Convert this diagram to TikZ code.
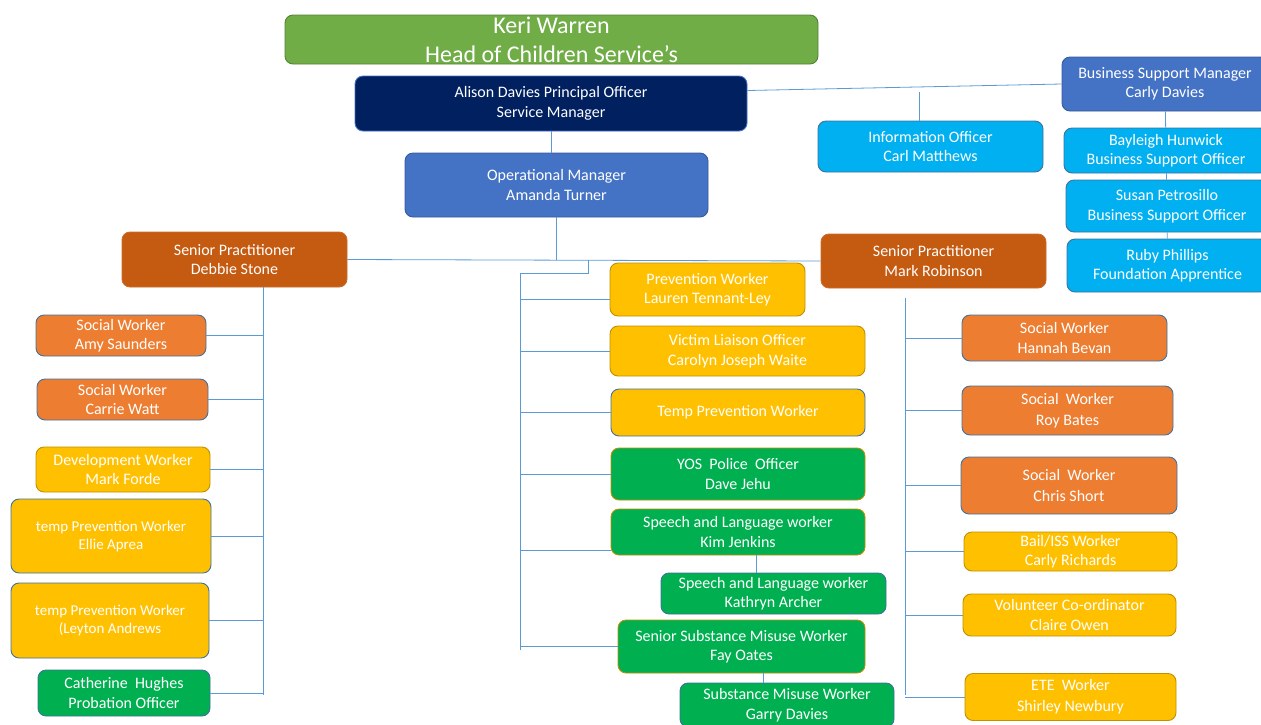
\documentclass[tikz,border=0pt]{standalone}
\usepackage{fontspec}
\setmainfont{Carlito}
\usepackage{tikz}
\usetikzlibrary{positioning, calc}
\definecolor{headgreen}{HTML}{70AD47}
\definecolor{navy}{HTML}{002060}
\definecolor{midblue}{HTML}{4472C4}
\definecolor{skyblue}{HTML}{00B0F0}
\definecolor{rust}{HTML}{C55A11}
\definecolor{swOrange}{HTML}{ED7D31}
\definecolor{amber}{HTML}{FFC000}
\definecolor{teamgreen}{HTML}{00B050}
\definecolor{edgeblue}{HTML}{41719C}
\definecolor{edgegold}{HTML}{BF9000}
\definecolor{linkblue}{HTML}{5B9BD5}

\begin{document}
\begin{tikzpicture}[x=1pt, y=-1pt,
			post/.style={draw=edgeblue, rounded corners=8pt, text=white, align=center, font=\fontsize{16}{19.5}\selectfont, inner sep=1pt, line width=0.9pt},
			sw/.style={post, fill=swOrange},
			yw/.style={post, fill=amber, draw=edgegold},
			gw/.style={post, fill=teamgreen},
			link/.style={linkblue, line width=0.8pt}]
			\useasboundingbox (0,0) rectangle (1261,724);
			\clip (0,0) rectangle (1261,724);
			\node[post, fill=headgreen, draw=headgreen!75!black, font=\fontsize{24}{29}\selectfont, minimum width=533, minimum height=49] (keri) at (551.5,39.5) {Keri Warren\\Head of Children Service’s};
			\node[post, fill=navy, draw=midblue, minimum width=392, minimum height=55] (alison) at (551,103.5) {Alison Davies Principal Officer\\Service Manager};
			\node[post, fill=midblue, draw=midblue!80!black, minimum width=303, minimum height=64] (ops) at (556.5,185) {Operational Manager\\Amanda Turner};
			\node[post, fill=midblue, draw=midblue!80!black, minimum width=206, minimum height=54] (bsm) at (1165,84) {Business Support Manager\\Carly Davies};
			\node[post, fill=skyblue, minimum width=225, minimum height=51] (info) at (930.5,146.5) {Information Officer\\Carl Matthews};
			\node[post, fill=skyblue, minimum width=204, minimum height=45] (bay) at (1166,150.5) {Bayleigh Hunwick\\Business Support Officer};
			\node[post, fill=skyblue, minimum width=202, minimum height=52] (susan) at (1167,206) {Susan Petrosillo\\Business Support Officer};
			\node[post, fill=skyblue, minimum width=201, minimum height=53] (ruby) at (1167.5,265.5) {Ruby Phillips\\Foundation Apprentice};
			\node[post, fill=rust, draw=rust!90!white, minimum width=225, minimum height=55] (debbie) at (234.5,259.5) {Senior Practitioner\\Debbie Stone};
			\node[post, fill=rust, draw=rust!90!white, minimum width=225, minimum height=54] (mark) at (933.5,261) {Senior Practitioner\\Mark Robinson};
			\node[sw, minimum width=170, minimum height=41] (amy) at (121,335.5) {Social Worker\\Amy Saunders};
			\node[sw, minimum width=171, minimum height=41] (carrie) at (122.5,399.5) {Social Worker\\Carrie Watt};
			\node[yw, minimum width=174, minimum height=45] (forde) at (123,469.5) {Development Worker\\Mark Forde};
			\node[yw, draw=edgeblue, font=\fontsize{15}{18}\selectfont, minimum width=200, minimum height=74] (ellie) at (111,536) {temp Prevention Worker\\Ellie Aprea};
			\node[yw, draw=edgeblue, font=\fontsize{15}{18}\selectfont, minimum width=198, minimum height=75] (leyton) at (110,620.5) {temp Prevention Worker\\(Leyton Andrews};
			\node[gw, minimum width=172, minimum height=46] (cath) at (124,693) {Catherine~ Hughes\\Probation Officer};
			\node[yw, minimum width=195, minimum height=53] (lauren) at (707.5,289.5) {Prevention Worker\\Lauren Tennant-Ley};
			\node[yw, minimum width=255, minimum height=50] (victim) at (737.5,351) {Victim Liaison Officer\\Carolyn Joseph Waite};
			\node[yw, draw=edgeblue, minimum width=254, minimum height=47] (tempw) at (738,412.5) {Temp Prevention Worker};
			\node[gw, draw=edgegold, minimum width=254, minimum height=52] (yos) at (738,474) {YOS~ Police~ Officer\\Dave Jehu};
			\node[gw, draw=edgegold, minimum width=254, minimum height=46] (kim) at (738,532) {Speech and Language worker\\Kim Jenkins};
			\node[gw, minimum width=225, minimum height=41] (kathryn) at (773.5,593.5) {Speech and Language worker\\Kathryn Archer};
			\node[gw, draw=edgegold, minimum width=247, minimum height=53] (fay) at (741.5,646.5) {Senior Substance Misuse Worker\\Fay Oates};
			\node[gw, minimum width=214, minimum height=44] (garry) at (787,705) {Substance Misuse Worker\\Garry Davies};
			\node[sw, minimum width=205, minimum height=46] (hannah) at (1064.5,338) {Social Worker\\Hannah Bevan};
			\node[sw, font=\fontsize{16}{21}\selectfont, minimum width=211, minimum height=49] (roy) at (1067.5,410.5) {Social~ Worker\\Roy Bates};
			\node[sw, font=\fontsize{16}{21}\selectfont, minimum width=216, minimum height=57] (chris) at (1069,485.5) {Social~ Worker\\Chris Short};
			\node[yw, minimum width=213, minimum height=39] (carly) at (1070.5,551.5) {Bail/ISS Worker\\Carly Richards};
			\node[yw, minimum width=213, minimum height=42] (claire) at (1069.5,615) {Volunteer Co-ordinator\\Claire Owen};
			\node[yw, font=\fontsize{16}{21}\selectfont, minimum width=211, minimum height=47] (shirley) at (1070.5,697) {ETE~ Worker\\Shirley Newbury};
			\coordinate (lbot) at (263,695);
			\coordinate (mtop) at (588,260);
			\coordinate (mturn) at (520,273);
			\coordinate (mbot) at (520,650);
			\coordinate (rtop) at (905,298);
			\coordinate (rbot) at (905,695);
			\coordinate (tap) at (919,92);
			\draw[link] (alison.south) -- (alison.south |- ops.north);
			\draw[link] ([yshift=13pt]alison.east) -- (bsm.west);
			\draw[link] (tap) -- (tap |- info.north);
			\draw[link] (bsm) -- (bay);
			\draw[link] (bay) -- (susan);
			\draw[link] (susan) -- (ruby);
			\draw[link] (debbie.east) -- (mark.west);
			\draw[link] (ops.south) -- (ops.south |- debbie.east);
			\draw[link] (debbie.south -| lbot) -- (lbot);
			\foreach \p in {amy, carrie, forde, ellie, leyton, cath}
				\draw[link] (\p.east) -- (\p.east -| lbot);
			\draw[link] (mtop) |- (mturn) -- (mbot);
			\draw[link] ([yshift=-10pt]lauren.west) -- ([yshift=-10pt]lauren.west -| mturn);
			\foreach \p in {victim, tempw, yos, fay}
				\draw[link] (\p.west) -- (\p.west -| mturn);
			\draw[link] ([yshift=-18pt]kim.west) -- ([yshift=-18pt]kim.west -| mturn);
			\draw[link] ([xshift=18pt]kim.south) -- ([xshift=18pt]kim.south |- kathryn.north);
			\draw[link] ([xshift=22pt]fay.south) -- ([xshift=22pt]fay.south |- garry.north);
			\draw[link] (rtop) -- (rbot);
			\foreach \p in {hannah, roy, chris, carly, claire, shirley}
				\draw[link] (\p.west) -- (\p.west -| rtop);
		\end{tikzpicture}
\end{document}
